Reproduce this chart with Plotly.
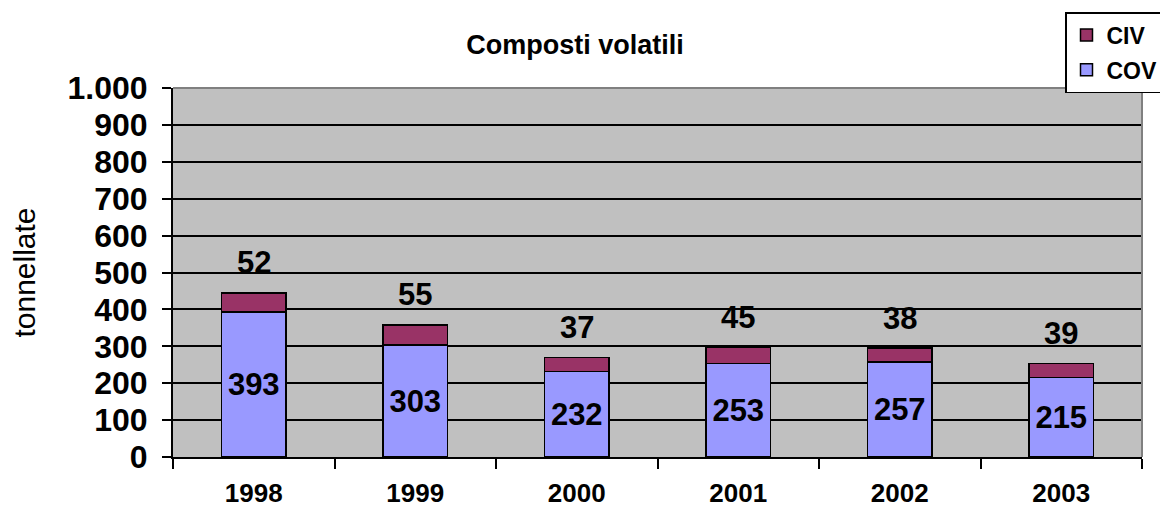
import plotly.graph_objects as go

# ── Data ──────────────────────────────────────────────────────────────
years = ["1998", "1999", "2000", "2001", "2002", "2003"]
cov = [393, 303, 232, 253, 257, 215]
civ = [52, 55, 37, 45, 38, 39]

# ── Styling ───────────────────────────────────────────────────────────
FONT = "Liberation Sans, Arial, sans-serif"
COV_COLOR = "#9999FF"
CIV_COLOR = "#993366"
OFF = 8                      # page body margin around the figure
W, H = 1168 - OFF, 508 - OFF
L, R, T, B = 173 - OFF, 26, 88 - OFF, 51

fig = go.Figure()
fig.add_trace(go.Bar(
    x=years, y=cov, name="COV", legendgroup="cov", legendrank=2,
    marker_color=COV_COLOR, marker_line=dict(color="black", width=1.5),
    text=[str(v) for v in cov], textposition="inside",
    insidetextanchor="middle", constraintext="none",
    textfont=dict(family=FONT, size=31, color="black", weight="bold"),
))
fig.add_trace(go.Bar(
    x=years, y=civ, name="CIV", legendgroup="civ", legendrank=1,
    marker_color=CIV_COLOR, marker_line=dict(color="black", width=1.5),
    textposition="none",
))

# CIV values floating above each stack (x by category index: the years
# look numeric, so plotly would read "1998" as an index otherwise)
totals = [a + b for a, b in zip(cov, civ)]
for i, (tot, v) in enumerate(zip(totals, civ)):
    fig.add_annotation(x=i, y=tot, text=f"<b>{v}</b>", showarrow=False,
                       yshift=30, font=dict(family=FONT, size=31, color="black"))

# gray border on top / right of the plot area
fig.add_shape(type="line", xref="paper", yref="paper", x0=0, x1=1, y0=1, y1=1,
              line=dict(color="#808080", width=2))
fig.add_shape(type="line", xref="paper", yref="paper", x0=1, x1=1, y0=0, y1=1,
              line=dict(color="#808080", width=2))

fig.update_layout(
    width=W, height=H,
    barmode="stack", bargap=0.6,
    separators=",.",
    paper_bgcolor="white", plot_bgcolor="#C0C0C0",
    margin=dict(l=L, r=R, t=T, b=B, autoexpand=False),
    font=dict(family=FONT, color="black"),
    title=dict(text="<b>Composti volatili</b>", xref="container",
               x=(575 - OFF) / W, xanchor="center", yref="container",
               y=1 - (45 - OFF) / H, yanchor="middle",
               font=dict(family=FONT, size=27, color="black")),
    showlegend=True,
    legend=dict(xref="container", yref="container", x=(1065 - OFF) / W,
                y=1 - (12 - OFF) / H, xanchor="left", yanchor="top",
                traceorder="grouped", tracegroupgap=2,
                bgcolor="white", bordercolor="black", borderwidth=1.5,
                font=dict(family=FONT, size=23, color="black", weight="bold"),
                itemwidth=30),
    xaxis=dict(type="category", range=[-0.5, len(years) - 0.5],
               showgrid=False, showline=True,
               linecolor="black", linewidth=2,
               ticks="outside", tickson="boundaries", ticklen=10,
               tickcolor="black", tickwidth=2,
               tickfont=dict(family=FONT, size=26, color="black", weight="bold"),
               ticklabelstandoff=12),
    yaxis=dict(range=[0, 1000], dtick=100, tickformat=",",
               showgrid=True, gridcolor="black", gridwidth=1.5,
               showline=True, linecolor="black", linewidth=2,
               ticks="outside", ticklen=9, tickcolor="black", tickwidth=2,
               tickfont=dict(family=FONT, size=32, color="black", weight="bold"),
               ticklabelstandoff=8,
               title=dict(text="tonnellate", standoff=30,
                          font=dict(family=FONT, size=30, color="black")),
               zeroline=False),
)

fig.write_html("out.html")
